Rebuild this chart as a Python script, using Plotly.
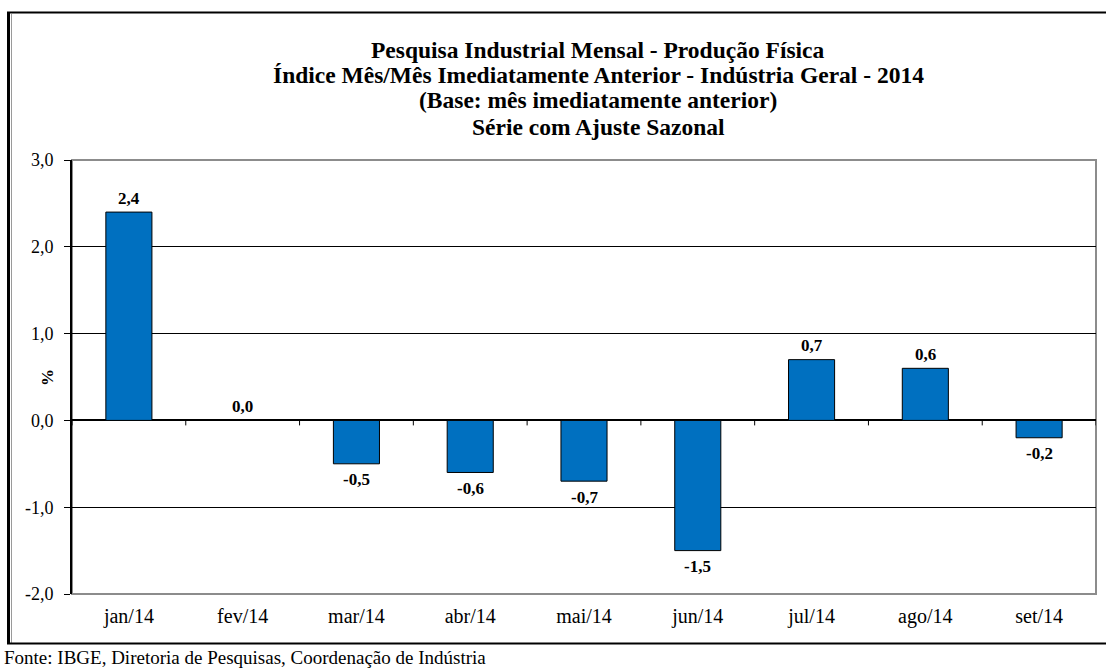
import plotly.graph_objects as go

months = ["jan/14", "fev/14", "mar/14", "abr/14", "mai/14", "jun/14", "jul/14", "ago/14", "set/14"]
values = [2.4, 0.0, -0.5, -0.6, -0.7, -1.5, 0.7, 0.6, -0.2]
y_ticks = [-2.0, -1.0, 0.0, 1.0, 2.0, 3.0]

W, H = 1106, 668
L, R, T, B = 72, 10, 160, 74
PW = W - L - R
PH = H - T - B

def px(x):
    return (x - L) / PW

def py(y):
    return (H - B - y) / PH

def fmt(v):
    return f"{v:.1f}".replace(".", ",")

FONT = "Liberation Serif"
xs = list(range(len(months)))

fig = go.Figure()
fig.add_trace(go.Bar(
    x=xs, y=values, width=0.405,
    marker=dict(color="#0070C0", line=dict(color="black", width=1)),
    hoverinfo="skip", showlegend=False,
))

shapes = []
for i in range(len(months) + 1):
    shapes.append(dict(type="line", xref="x", yref="y", x0=i - 0.5, x1=i - 0.5,
                       ysizemode="pixel", yanchor=0, y0=0, y1=-5,
                       line=dict(color="black", width=1)))
shapes.append(dict(type="rect", xref="paper", yref="paper", x0=0, x1=1, y0=0, y1=1,
                   line=dict(color="#8c8c8c", width=2), layer="below"))
shapes.append(dict(type="line", xref="paper", yref="paper", x0=px(8.5), x1=px(8.5), y0=py(644), y1=py(12),
                   line=dict(color="black", width=3)))
shapes.append(dict(type="line", xref="paper", yref="paper", x0=px(11.5), x1=px(11.5), y0=py(643), y1=py(14),
                   line=dict(color="#9a9a9a", width=1)))
shapes.append(dict(type="line", xref="paper", yref="paper", x0=px(7), x1=px(1110), y0=py(12.5), y1=py(12.5),
                   line=dict(color="black", width=2)))
shapes.append(dict(type="line", xref="paper", yref="paper", x0=px(7), x1=px(1110), y0=py(643.5), y1=py(643.5),
                   line=dict(color="black", width=2)))

annotations = []
for x, v in zip(xs, values):
    annotations.append(dict(text=f"<b>{fmt(v)}</b>", xref="x", yref="y", x=x, y=v,
                            showarrow=False, xanchor="center", yanchor="middle",
                            yshift=14 if v >= 0 else -16,
                            font=dict(family=FONT, size=17, color="black")))

title_lines = [
    "Pesquisa Industrial Mensal - Produção Física",
    "Índice Mês/Mês Imediatamente Anterior - Indústria Geral - 2014",
    "(Base: mês imediatamente anterior)",
    "Série com Ajuste Sazonal",
]
title_y = [50, 75, 100, 127]
for line, ty in zip(title_lines, title_y):
    annotations.append(dict(text=f"<b>{line}</b>", xref="paper", yref="paper",
                            x=px(598), y=py(ty), showarrow=False,
                            xanchor="center", yanchor="middle",
                            font=dict(family=FONT, size=23.5, color="black")))
annotations.append(dict(text="<b>%</b>", xref="paper", yref="paper", x=px(47), y=py(378),
                        showarrow=False, textangle=-90, xanchor="center", yanchor="middle",
                        font=dict(family=FONT, size=17, color="black")))
annotations.append(dict(text="Fonte: IBGE, Diretoria de Pesquisas, Coordenação de Indústria",
                        xref="paper", yref="paper", x=px(2), y=py(657), showarrow=False,
                        xanchor="left", yanchor="middle",
                        font=dict(family=FONT, size=19, color="black")))

fig.update_layout(
    width=W, height=H,
    margin=dict(l=L, r=R, t=T, b=B),
    paper_bgcolor="white", plot_bgcolor="white",
    shapes=shapes, annotations=annotations,
    xaxis=dict(tickmode="array", tickvals=xs, ticktext=months, range=[-0.5, len(months) - 0.5],
               showgrid=False, zeroline=False, showline=False, ticks="",
               ticklabelstandoff=8,
               tickfont=dict(family=FONT, size=20, color="black")),
    yaxis=dict(range=[-2, 3], tickmode="array", tickvals=y_ticks, ticktext=[fmt(v) for v in y_ticks],
               showgrid=True, gridcolor="black", gridwidth=1,
               zeroline=True, zerolinecolor="black", zerolinewidth=2,
               showline=True, linecolor="black", linewidth=2,
               ticks="outside", ticklen=6, tickcolor="black", tickwidth=1,
               ticklabelstandoff=7,
               tickfont=dict(family=FONT, size=18, color="black")),
)

fig.write_html("out.html", config={"displayModeBar": False},
               post_script="document.body.style.margin='0';document.body.style.overflow='hidden';")
